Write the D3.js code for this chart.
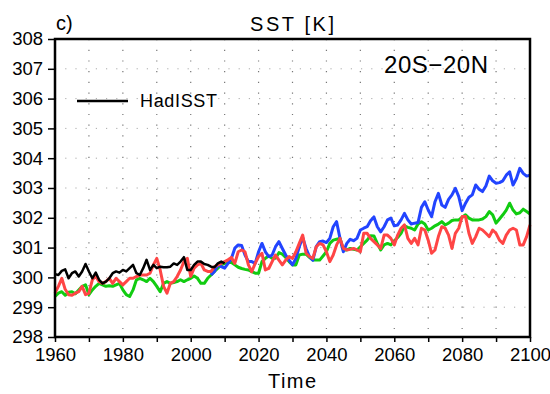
<!DOCTYPE html>
<html>
<head>
<meta charset="utf-8">
<script src="https://cdn.jsdelivr.net/npm/d3@7"></script>
<style>
  body { margin: 0; background: #fff; }
  text { font-family: "Liberation Sans", Arial, sans-serif; fill: #000; }
</style>
</head>
<body>
<div class="chart"></div>
<script>
// observed HadISST, 1960-2010
const obsStart = 1960;
const obsSST = [
  300.11, 300.08, 300.22, 300.27, 299.97, 300.14, 300.20, 300.03, 300.20, 300.45,
  300.20, 299.97, 300.16, 299.92, 299.80, 299.86, 299.97, 300.14, 300.20, 300.16,
  300.25, 300.20, 300.31, 300.42, 300.14, 300.08, 300.31, 300.59, 300.25, 300.42,
  300.31, 300.36, 300.34, 300.34, 300.36, 300.47, 300.42, 300.53, 300.68, 300.25,
  300.25, 300.42, 300.53, 300.53, 300.45, 300.42, 300.36, 300.34, 300.47, 300.53,
  300.47
];

// green run, 1960-2100
const greenStart = 1960;
const greenSST = [
  299.36, 299.47, 299.52, 299.40, 299.50, 299.52, 299.45, 299.58, 299.70, 299.75,
  299.42, 299.58, 299.70, 299.80, 299.75, 299.70, 299.72, 299.70, 299.75, 299.80,
  299.58, 299.42, 299.36, 299.58, 299.92, 299.97, 299.92, 299.86, 299.97, 299.86,
  299.70, 299.52, 299.80, 299.86, 299.80, 299.83, 299.86, 299.92, 299.86, 299.92,
  299.97, 300.05, 299.97, 299.80, 299.80, 299.97, 300.08, 300.20, 300.31, 300.42,
  300.47, 300.50, 300.50, 300.42, 300.34, 300.30, 300.27, 300.25, 300.19, 300.14,
  300.14, 300.53, 300.64, 300.72, 300.64, 300.64, 300.83, 300.78, 300.67, 300.53,
  300.42, 300.42, 300.75, 300.78, 300.78, 300.67, 300.58, 300.58, 300.58, 300.72,
  300.86, 301.14, 301.25, 301.28, 301.31, 300.92, 300.92, 300.97, 300.94, 300.92,
  301.03, 301.14, 301.25, 301.40, 301.39, 301.14, 300.92, 301.09, 301.14, 301.09,
  301.23, 301.34, 301.48, 301.73, 301.68, 301.65, 301.59, 301.79, 301.87, 301.79,
  301.59, 301.65, 301.73, 301.79, 301.87, 301.76, 301.82, 301.91, 301.93, 301.93,
  302.02, 302.10, 301.99, 301.93, 301.93, 301.93, 301.96, 302.04, 302.21, 302.10,
  301.82, 301.96, 302.10, 302.26, 302.49, 302.26, 302.13, 302.17, 302.29, 302.21,
  302.13
];

// red run, 1960-2100
const redStart = 1960;
const redSST = [
  299.47, 299.70, 299.97, 299.60, 299.42, 299.40, 299.47, 299.52, 299.70, 299.42,
  299.47, 299.92, 300.03, 299.86, 299.80, 299.86, 299.97, 299.80, 299.97, 299.86,
  299.75, 299.86, 299.97, 299.97, 300.03, 300.08, 300.08, 300.08, 300.14, 300.42,
  300.64, 300.25, 299.70, 299.47, 299.80, 299.86, 300.03, 300.25, 300.53, 300.64,
  300.03, 300.31, 300.42, 300.47, 300.25, 300.20, 300.20, 300.36, 300.42, 300.47,
  300.53, 300.59, 300.67, 300.47, 300.86, 300.92, 300.86, 300.42, 300.19, 300.47,
  300.70, 300.81, 300.25, 300.30, 300.53, 300.75, 300.58, 300.42, 300.58, 300.70,
  300.64, 300.86, 301.14, 301.42, 300.81, 300.70, 300.64, 301.03, 301.14, 301.09,
  300.86, 300.53, 300.75, 301.09, 301.31, 300.97, 300.92, 300.94, 300.97, 300.92,
  300.86, 301.48, 301.48, 301.31, 301.20, 301.09, 300.97, 301.42, 301.42, 301.31,
  301.09, 301.42, 301.65, 301.76, 301.31, 301.14, 301.31, 301.09, 301.65, 301.59,
  301.25, 300.81, 300.92, 301.37, 301.70, 301.65, 301.42, 300.97, 301.48, 301.65,
  302.04, 302.04, 301.48, 301.14, 301.37, 301.65, 301.59, 301.48, 301.37, 301.59,
  301.48, 301.25, 301.14, 301.42, 301.59, 301.65, 301.59, 301.09, 301.09, 301.37,
  301.76
];

// blue run, 2006-2100
const blueStart = 2006;
const blueSST = [
  300.08, 300.20, 300.42, 300.36,
  300.31, 300.47, 300.64, 300.98, 301.09, 301.07, 300.75, 300.53, 300.53, 300.47,
  300.86, 301.14, 300.86, 300.70, 300.75, 301.03, 301.20, 300.97, 300.75, 300.58,
  300.42, 300.64, 301.03, 301.34, 300.97, 300.70, 300.58, 301.03, 301.20, 301.22,
  301.17, 301.31, 301.70, 301.87, 301.31, 300.86, 301.14, 301.28, 301.23, 301.31,
  301.59, 301.65, 301.70, 301.90, 302.03, 301.70, 301.53, 301.70, 301.93, 301.99,
  301.73, 301.76, 301.93, 302.15, 301.93, 301.79, 301.82, 301.84, 302.35, 302.54,
  302.26, 302.04, 302.54, 302.82, 302.43, 302.35, 302.62, 302.77, 302.99, 302.71,
  302.24, 302.49, 302.69, 302.77, 303.10, 302.96, 302.88, 303.07, 303.40, 303.24,
  303.16, 303.18, 303.24, 303.43, 303.54, 303.10, 303.32, 303.66, 303.49, 303.40,
  303.43
];

const xTicks = [1960, 1980, 2000, 2020, 2040, 2060, 2080, 2100];
const yTicks = [298, 299, 300, 301, 302, 303, 304, 305, 306, 307, 308];

function makechart() {
    const width = 550;
    const height = 394;
    const margin = { top: 39, right: 20, bottom: 57, left: 55 };

    const svg = d3.select(".chart")
        .append("svg")
        .attr("width", width)
        .attr("height", height);

    const x = d3.scaleLinear()
        .domain([1960, 2100])
        .range([margin.left, width - margin.right]);

    const y = d3.scaleLinear()
        .domain([298, 308])
        .range([height - margin.bottom, margin.top]);

    const toPoints = (start, vals) => vals.map((v, i) => ({ year: start + i, value: v }));

    // dotted grid
    svg.append("g")
        .selectAll("line")
        .data(d3.range(1970, 2100, 10))
        .join("line")
        .attr("x1", d => x(d)).attr("x2", d => x(d))
        .attr("y1", y(308)).attr("y2", y(298))
        .attr("stroke", "#777")
        .attr("stroke-width", 1.2)
        .attr("stroke-dasharray", "1.2 9.5");

    svg.append("g")
        .selectAll("line")
        .data(yTicks.slice(1, -1))
        .join("line")
        .attr("x1", x(1960)).attr("x2", x(2100))
        .attr("y1", d => y(d)).attr("y2", d => y(d))
        .attr("stroke", "#aaa")
        .attr("stroke-width", 1)
        .attr("stroke-dasharray", "1.2 9");

    const line = d3.line()
        .x(d => x(d.year))
        .y(d => y(d.value));

    const series = [
        { pts: toPoints(greenStart, greenSST), color: "#11cc11", w: 3 },
        { pts: toPoints(blueStart, blueSST), color: "#2244ff", w: 3 },
        { pts: toPoints(redStart, redSST), color: "#ff4545", w: 3 },
        { pts: toPoints(obsStart, obsSST), color: "#000", w: 2.5 }
    ];

    svg.append("g")
        .selectAll("path")
        .data(series)
        .join("path")
        .attr("fill", "none")
        .attr("stroke", d => d.color)
        .attr("stroke-width", d => d.w)
        .attr("stroke-linejoin", "round")
        .attr("d", d => line(d.pts));

    // axes
    const xAxis = g => g
        .attr("transform", `translate(0,${height - margin.bottom})`)
        .call(d3.axisBottom(x).tickValues(d3.range(1960, 2101, 10))
            .tickFormat(d => xTicks.includes(d) ? d : "")
            .tickSize(5).tickPadding(6))
        .call(g => g.select(".domain").remove())
        .call(g => g.selectAll("line").attr("stroke-width", 1.5))
        .call(g => g.selectAll("text").attr("font-size", 18.5).attr("font-family", "Liberation Sans"));

    const yAxis = g => g
        .attr("transform", `translate(${margin.left},0)`)
        .call(d3.axisLeft(y).tickValues(yTicks).tickFormat(d3.format("d"))
            .tickSize(7).tickPadding(5))
        .call(g => g.select(".domain").remove())
        .call(g => g.selectAll("line").attr("stroke-width", 1.5))
        .call(g => g.selectAll("text").attr("font-size", 18.5).attr("font-family", "Liberation Sans"));

    svg.append("g").call(xAxis);
    svg.append("g").call(yAxis);

    // frame
    svg.append("rect")
        .attr("x", x(1960)).attr("y", y(308))
        .attr("width", x(2100) - x(1960))
        .attr("height", y(298) - y(308))
        .attr("fill", "none")
        .attr("stroke", "#000")
        .attr("stroke-width", 2.5);

    // legend
    svg.append("line")
        .attr("x1", 77).attr("x2", 128)
        .attr("y1", 101).attr("y2", 101)
        .attr("stroke", "#000").attr("stroke-width", 2.5);
    svg.append("text")
        .attr("x", 140).attr("y", 107)
        .attr("font-size", 18)
        .attr("textLength", 77)
        .text("HadISST");

    // titles
    svg.append("text")
        .attr("x", 292).attr("y", 31)
        .attr("text-anchor", "middle")
        .attr("font-size", 20)
        .attr("textLength", 84)
        .text("SST  [K]");

    svg.append("text")
        .attr("x", 56).attr("y", 30)
        .attr("font-size", 20)
        .text("c)");

    svg.append("text")
        .attr("x", 384).attr("y", 73)
        .attr("font-size", 24)
        .attr("textLength", 104)
        .text("20S\u221220N");

    svg.append("text")
        .attr("x", 292).attr("y", 388)
        .attr("text-anchor", "middle")
        .attr("font-size", 20)
        .attr("textLength", 48)
        .text("Time");
}

makechart();
</script>
</body>
</html>
